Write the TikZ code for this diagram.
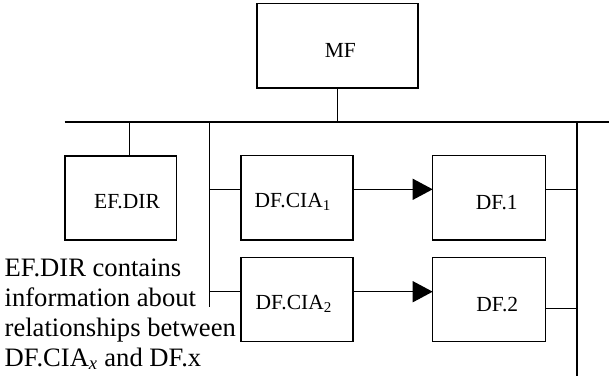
\documentclass[tikz,border=0pt]{standalone}
\usepackage{fontspec}
\setmainfont{Liberation Serif}
\usetikzlibrary{arrows.meta}
\begin{document}
\begin{tikzpicture}[x=1pt,y=-1pt,line width=1.3pt,
  box/.style={draw,line width=1.3pt,minimum width=112pt,minimum height=84pt,inner sep=0pt,outer sep=0pt},
  lbl/.style={font=\fontsize{21.5}{25}\selectfont,inner sep=0pt,anchor=base},
  conn/.style={line width=1.3pt},
  arr/.style={line width=1.3pt,-{Triangle[length=20pt,width=21pt]}}]
\useasboundingbox (0,0) rectangle (609,376);
% boxes
\node[box,minimum width=161pt,minimum height=84.7pt,
  label={[lbl,xshift=2.8pt,yshift=-4.3pt]center:MF}] (mf) at (337.5,45.7) {};
\node[box,minimum width=111.7pt,
  label={[lbl,xshift=6.2pt,yshift=-3.7pt]center:EF.DIR}] (ef) at (120.8,198) {};
\node[box,minimum height=84.3pt,
  label={[lbl,xshift=-4.2pt,yshift=-4.4pt]center:DF.CIA\textsubscript{1}}] (cia1) at (297,197.9) {};
\node[box,minimum width=113pt,minimum height=84.3pt,
  label={[lbl,xshift=7.5pt,yshift=-4.4pt]center:DF.1}] (df1) at (489.2,197.9) {};
\node[box,minimum height=84.4pt,
  label={[lbl,xshift=-3.2pt,yshift=-4.8pt]center:DF.CIA\textsubscript{2}}] (cia2) at (297,299.5) {};
\node[box,minimum width=113pt,minimum height=84.4pt,
  label={[lbl,xshift=8pt,yshift=-4.8pt]center:DF.2}] (df2) at (489.2,299.5) {};
% bus coordinates
\coordinate (busL) at (64.5,122);
\coordinate (busE) at (609,122);
\coordinate (lbTop) at (209.3,122);
\coordinate (lbBot) at (209.3,307.3);
\coordinate (rbTop) at (577,122);
\coordinate (rbBot) at (577,376);
\coordinate (efStem) at (129.3,122);
% main bus
\draw[conn] (busL) -- (busE);
\draw[conn] (mf.south) -- (mf.south |- busL);
\draw[conn] (efStem) -- (efStem |- ef.north);
\draw[conn] (lbTop) -- (lbBot);
\draw[conn] (rbTop) -- (rbBot);
% row 1
\draw[conn] (lbTop |- 0,189.3) -- (cia1.west |- 0,189.3);
\draw[arr] (cia1.east |- 0,189.3) -- (df1.west |- 0,189.3);
\draw[conn] (df1.east |- 0,189.3) -- (rbTop |- 0,189.3);
% row 2
\draw[conn] (lbTop |- 0,291.7) -- (cia2.west |- 0,291.7);
\draw[arr] (cia2.east |- 0,291.7) -- (df2.west |- 0,291.7);
\draw[conn] (df2.east |- 0,308.3) -- (rbTop |- 0,308.3);
% annotation
\node[anchor=base west,inner sep=0pt,align=left,
  font=\fontsize{26.6}{30}\selectfont] (note) at (4,366)
  {EF.DIR contains\\information about\\relationships between\\DF.CIA\textsubscript{\textit{x}} and DF.x};
\end{tikzpicture}
\end{document}
